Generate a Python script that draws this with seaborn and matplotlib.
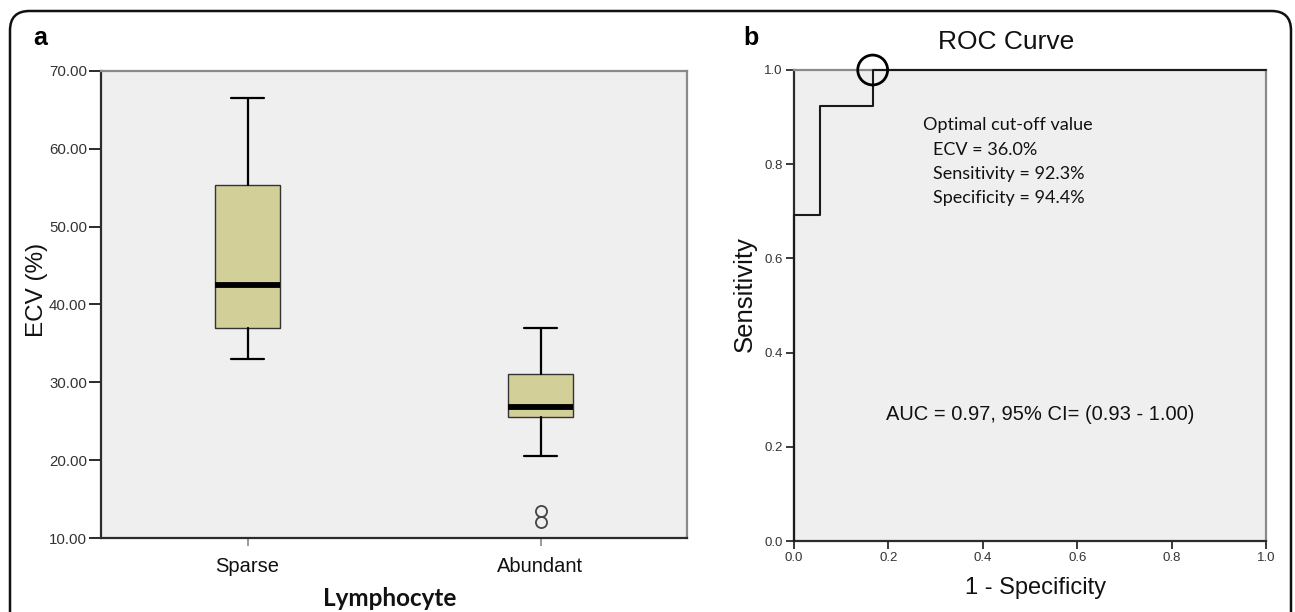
import matplotlib
matplotlib.use("Agg")
import matplotlib.pyplot as plt
import seaborn as sns
import numpy as np
import pandas as pd
from matplotlib.patches import FancyBboxPatch

# ---------------- data ----------------
categories = ["Sparse", "Abundant"]
whisker_low = [32.94, 20.55]
q1 = [37.0, 25.5]
median = [42.5, 26.85]
q3 = [55.35, 31.05]
whisker_high = [66.57, 37.0]
outliers = [[], [13.5, 12.0]]

y_ticks = [10, 20, 30, 40, 50, 60, 70]

roc_fpr = [0.0, 0.0, 0.0556, 0.0556, 0.1667, 0.1667, 1.0]
roc_tpr = [0.0, 0.692, 0.692, 0.923, 0.923, 1.0, 1.0]
cutoff_fpr = [0.1667]
cutoff_tpr = [1.0]
roc_ticks = [0.0, 0.2, 0.4, 0.6, 0.8, 1.0]

# ---------------- style ----------------
sns.set_theme(style="ticks")
plt.rcParams['font.family'] = ['Liberation Sans', 'DejaVu Sans']

W, H = 1295, 612
fig = plt.figure(figsize=(W / 100, H / 100), dpi=100)

def px_axes(x0, y0, x1, y1):
    return fig.add_axes([x0 / W, 1 - y1 / H, (x1 - x0) / W, (y1 - y0) / H])

axA = px_axes(101, 71, 687, 538)
axB = px_axes(794, 70, 1266, 541)

bg = "#efefef"
dark = "#2b2b2b"
grey = "#8a8a8a"

for ax in (axA, axB):
    ax.set_facecolor(bg)
    for s in ("left", "bottom"):
        ax.spines[s].set_color(dark)
        ax.spines[s].set_linewidth(1.6)
    for s in ("top", "right"):
        ax.spines[s].set_visible(True)
        ax.spines[s].set_color(grey)
        ax.spines[s].set_linewidth(1.6)

# ---------------- panel a: boxplot ----------------
stats = []
for i, c in enumerate(categories):
    stats.append(dict(label=c, whislo=whisker_low[i], q1=q1[i], med=median[i],
                      q3=q3[i], whishi=whisker_high[i], fliers=outliers[i]))

axA.bxp(stats, positions=[0, 1], widths=0.222, capwidths=0.113, patch_artist=True,
        showfliers=True,
        boxprops=dict(facecolor="#d3cf99", edgecolor="#333333", linewidth=1.0),
        medianprops=dict(color="black", linewidth=4.2, solid_capstyle="butt"),
        whiskerprops=dict(color="black", linewidth=1.6),
        capprops=dict(color="black", linewidth=1.6),
        flierprops=dict(marker="o", markerfacecolor="none", markeredgecolor="#444444",
                        markersize=8, markeredgewidth=1.3))

axA.set_xlim(-0.5, 1.5)
axA.set_ylim(10, 70)
axA.set_yticks(y_ticks)
axA.set_yticklabels([f"{v:.2f}" for v in y_ticks], fontsize=10.8, color="#333333")
axA.set_xticks([0, 1])
axA.set_xticklabels(categories, fontsize=14.5, color="#111111")
axA.tick_params(axis="y", direction="out", length=9, width=1.4, color=dark, pad=1)
axA.tick_params(axis="x", direction="out", length=6, width=1.2, color=grey, pad=8)

axA.set_ylabel("ECV (%)", fontsize=17.5, va="center", ha="center", color="#111111")
axA.yaxis.set_label_coords((37 - 101) / 586, (538 - 290) / 467)
axA.set_xlabel("Lymphocyte", fontsize=17.5, fontweight="bold", family=["Lato", "DejaVu Sans"],
               va="center", ha="center", color="#111111")
axA.xaxis.set_label_coords((390 - 101) / 586, (538 - 598) / 467)

# ---------------- panel b: ROC ----------------
roc_df = pd.DataFrame({"fpr": roc_fpr, "tpr": roc_tpr})
sns.lineplot(data=roc_df, x="fpr", y="tpr", sort=False, estimator=None,
             color="#1a1a1a", linewidth=1.5, ax=axB, clip_on=False, zorder=5)
cut_df = pd.DataFrame({"fpr": cutoff_fpr, "tpr": cutoff_tpr})
sns.scatterplot(data=cut_df, x="fpr", y="tpr", marker="o", s=21.5 ** 2,
                facecolor="none", edgecolor="black", linewidth=2.0, ax=axB,
                clip_on=False, zorder=6)

axB.set_xlim(0, 1)
axB.set_ylim(0, 1)
axB.set_xticks(roc_ticks)
axB.set_yticks(roc_ticks)
axB.set_xticklabels([f"{v:.1f}" for v in roc_ticks], fontsize=9.5, color="#333333")
axB.set_yticklabels([f"{v:.1f}" for v in roc_ticks], fontsize=9.5, color="#333333")
axB.tick_params(axis="both", direction="out", length=6, width=1.3, color=dark, pad=2)

axB.set_xlabel("1 - Specificity", fontsize=17, va="center", ha="center", color="#111111")
axB.xaxis.set_label_coords((1036 - 794) / 472, (541 - 588) / 471)
axB.set_ylabel("Sensitivity", fontsize=18.5, va="center", ha="center", color="#111111")
axB.yaxis.set_label_coords((745 - 794) / 472, (541 - 294) / 471)

axB.text((1006 - 794) / 472, (541 - 42) / 471, "ROC Curve", transform=axB.transAxes,
         fontsize=19, ha="center", va="center", color="#111111")

calibri = ["Lato", "DejaVu Sans"]
axB.text((923 - 794) / 472, (541 - 125) / 471, "Optimal cut-off value",
         transform=axB.transAxes, fontsize=13, ha="left", va="center",
         family=calibri, color="#111111")
for txt, yy in (("ECV = 36.0%", 150), ("Sensitivity = 92.3%", 174),
                ("Specificity = 94.4%", 198)):
    axB.text((933 - 794) / 472, (541 - yy) / 471, txt, transform=axB.transAxes,
             fontsize=13, ha="left", va="center", family=calibri, color="#111111")

axB.text((1040 - 794) / 472, (541 - 415) / 471, "AUC = 0.97, 95% CI= (0.93 - 1.00)",
         transform=axB.transAxes, fontsize=14.5, ha="center", va="center",
         color="#111111")

# ---------------- panel letters and frame ----------------
fig.text(33 / W, 1 - 38 / H, "a", fontsize=18, fontweight="bold", ha="left", va="center",
         color="black")
fig.text(743 / W, 1 - 38 / H, "b", fontsize=18, fontweight="bold", ha="left", va="center",
         color="black")

frame = FancyBboxPatch((10 / W, -40 / H), (1291 - 10) / W, (612 - 11 + 40) / H,
                       boxstyle="round,pad=0,rounding_size=0.015",
                       transform=fig.transFigure, facecolor="none",
                       edgecolor="#111111", linewidth=1.8, clip_on=False,
                       mutation_aspect=W / H)
fig.patches.append(frame)

fig.savefig("out.png", dpi=100, facecolor="white")
